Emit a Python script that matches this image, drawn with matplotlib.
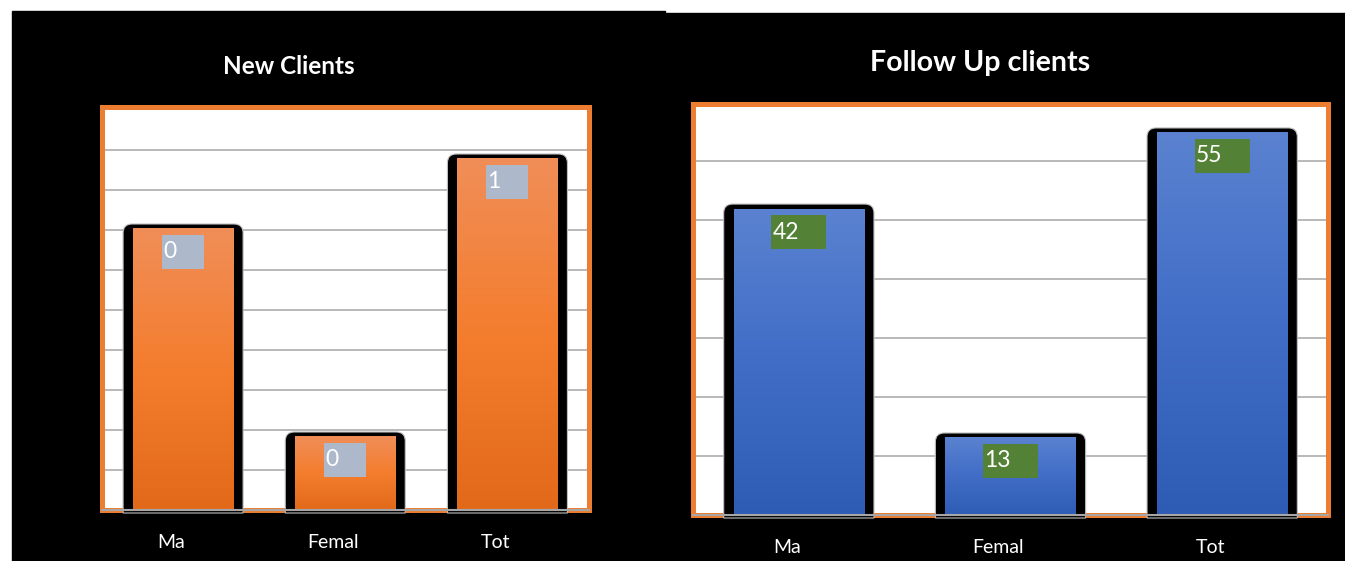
import numpy as np
import matplotlib
matplotlib.use("Agg")
import matplotlib.pyplot as plt
from matplotlib.path import Path
from matplotlib.patches import PathPatch, Rectangle
from matplotlib.colors import LinearSegmentedColormap
from matplotlib.transforms import ScaledTranslation

# ---------------- data ----------------
categories = ["Ma", "Femal", "Tot"]
new_titles = "New Clients"
new_heights = [7.15, 1.95, 8.9]          # bar heights (grid units)
new_labels = ["0", "0", "1"]             # data label texts as shown
follow_title = "Follow Up clients"
follow_heights = [52.7, 13.9, 65.6]      # bar heights
follow_labels = ["42", "13", "55"]       # data label texts as shown

W, H, DPI = 1345, 561, 100
fig = plt.figure(figsize=(W / DPI, H / DPI), dpi=DPI, facecolor="white")

# black panels
fig.patches.append(Rectangle((12 / W, 0), (665 - 12) / W, 1 - 11 / H,
                             transform=fig.transFigure, color="black", zorder=-10))
fig.patches.append(Rectangle((665 / W, 0), (W - 665) / W, 1 - 13 / H,
                             transform=fig.transFigure, color="black", zorder=-10))

FONT = ["Lato", "DejaVu Sans"]


def make_axes(x0, x1, ytop, ybot):
    return fig.add_axes([x0 / W, 1 - ybot / H, (x1 - x0) / W, (ybot - ytop) / H])


def draw_panel(ax, px_box, heights, labels, ytop_val, grid_vals, bar_w,
               colors, box_color, box_wpx, title, title_xy, title_size):
    x0, x1, yt, yb = px_box
    ax.set_facecolor("white")
    ax.set_xlim(-0.5, 2.5)
    ax.set_ylim(0, ytop_val)
    ppx = (x1 - x0) / 3.0
    ppy = (yb - yt) / ytop_val
    for s in ax.spines.values():
        s.set_color("#ED7D31")
        s.set_linewidth(3.6)
    ax.set_yticks(grid_vals)
    ax.yaxis.grid(True, color="#A6A6A6", lw=1.1)
    ax.set_axisbelow(True)
    ax.tick_params(axis="y", length=0, labelleft=False)
    xs = np.arange(len(categories))
    ax.set_xticks(xs)
    ax.set_xticklabels(categories, color="white", fontsize=14, family=FONT)
    ax.tick_params(axis="x", length=0, pad=17)
    off = ScaledTranslation(-12 / DPI, 0, fig.dpi_scale_trans)
    for lbl in ax.get_xticklabels():
        lbl.set_transform(lbl.get_transform() + off)

    cmap = LinearSegmentedColormap.from_list("g", colors)
    grad = np.linspace(0, 1, 256)[:, None]
    rx, ry = 9 / ppx, 9 / ppy
    ybase = -3 / ppy
    for xc, h, lab in zip(xs, heights, labels):
        bx0, bx1 = xc - bar_w / 2, xc + bar_w / 2
        verts = [(bx0, ybase), (bx0, h - ry), (bx0, h), (bx0 + rx, h),
                 (bx1 - rx, h), (bx1, h), (bx1, h - ry), (bx1, ybase), (bx0, ybase)]
        codes = [Path.MOVETO, Path.LINETO, Path.CURVE3, Path.CURVE3,
                 Path.LINETO, Path.CURVE3, Path.CURVE3, Path.LINETO, Path.CLOSEPOLY]
        ax.add_patch(PathPatch(Path(verts, codes), facecolor="black",
                               edgecolor="#BFBFBF", lw=0.8, zorder=3, clip_on=False))
        sx, sy = 10 / ppx, 5 / ppy
        ax.imshow(grad, extent=[bx0 + sx, bx1 - sx, 0, h - sy], aspect="auto",
                  cmap=cmap, zorder=3.5, interpolation="bicubic")
        bw, bh = box_wpx / ppx, 34 / ppy
        btop = h - 11 / ppy
        ax.add_patch(Rectangle((xc - bw / 2, btop - bh), bw, bh,
                               facecolor=box_color, edgecolor="none", zorder=4))
        ax.text(xc - bw / 2 + 1 / ppx, btop - bh / 2, lab, ha="left", va="center",
                color="white", fontsize=16.5, family=FONT, zorder=5)
    ax.axhline(0, color="#A6A6A6", lw=1.5, zorder=3.6, clip_on=False)
    ax.set_xlim(-0.5, 2.5)
    ax.set_ylim(0, ytop_val)
    fig.text(title_xy[0] / W, 1 - title_xy[1] / H, title, ha="center", va="center",
             color="white", fontsize=title_size, fontweight="bold", family=FONT)


box1 = (102, 588.5, 107, 510)
ax1 = make_axes(*box1)
draw_panel(ax1, box1, new_heights, new_labels, (510 - 107) / 40.0,
           list(range(1, 10)), 0.74,
           ["#F08E58", "#F47D2E", "#E2691A"], "#ADB9CA", 42,
           new_titles, (289, 66), 17.5)

box2 = (693, 1328, 103.5, 515)
ax2 = make_axes(*box2)
draw_panel(ax2, box2, follow_heights, follow_labels, (515 - 103.5) / 5.9,
           list(range(10, 70, 10)), 0.71,
           ["#5A82D0", "#416DC7", "#2E5CB4"], "#538135", 55,
           follow_title, (980, 63), 20.6)

fig.savefig("out.png", dpi=DPI, facecolor=fig.get_facecolor())
